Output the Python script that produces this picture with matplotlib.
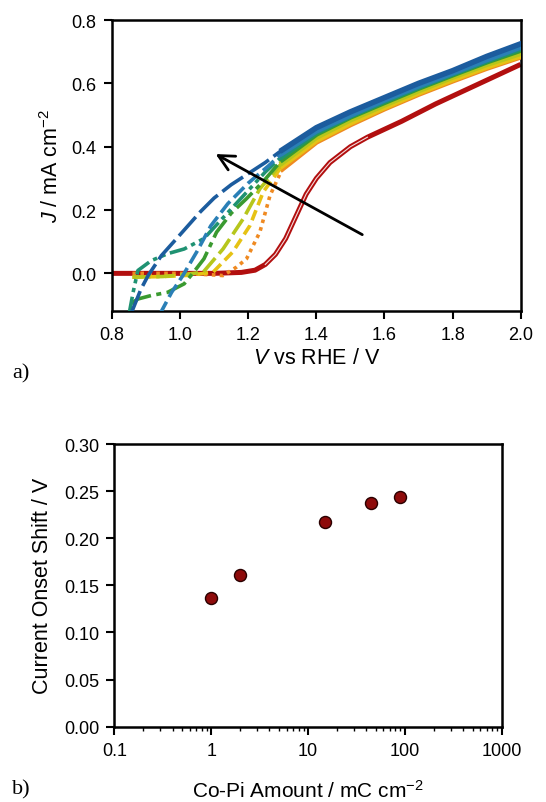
import numpy as np
import matplotlib
matplotlib.use("Agg")
import matplotlib.pyplot as plt
from matplotlib.ticker import FixedLocator, FixedFormatter, LogLocator, NullFormatter

plt.rcParams['font.family'] = ['Liberation Sans', 'DejaVu Sans']
plt.rcParams['mathtext.fontset'] = 'custom'
plt.rcParams['mathtext.rm'] = 'Liberation Sans'
plt.rcParams['mathtext.it'] = 'Liberation Sans:italic'

# ---------------- data: panel a (LSV curves) ----------------
V_HIGH = [1.4, 1.5, 1.6, 1.7, 1.8, 1.9, 2.0]

red_v = [0.80, 1.10, 1.18, 1.22, 1.25, 1.28, 1.31, 1.34, 1.37, 1.40, 1.44, 1.50, 1.55, 1.65, 1.75, 1.85, 1.95, 2.00]
red_j = [0.0, 0.0, 0.003, 0.01, 0.028, 0.06, 0.11, 0.18, 0.25, 0.30, 0.35, 0.40, 0.43, 0.48, 0.535, 0.585, 0.635, 0.66]

blue_a_v = [0.855, 0.885, 0.906, 0.945, 0.994, 1.06, 1.10, 1.15, 1.20, 1.25, 1.30]
blue_a_j = [-0.13, -0.05, -0.007, 0.056, 0.115, 0.195, 0.238, 0.28, 0.315, 0.35, 0.39]
blue_a_hi = [0.46, 0.51, 0.555, 0.60, 0.64, 0.685, 0.725]

blue_b_v = [0.94, 0.975, 1.008, 1.05, 1.09, 1.14, 1.20, 1.26, 1.30]
blue_b_j = [-0.13, -0.06, -0.007, 0.07, 0.15, 0.22, 0.285, 0.34, 0.38]
blue_b_hi = [0.45, 0.50, 0.548, 0.592, 0.633, 0.675, 0.715]

teal_v = [0.85, 0.862, 0.876, 0.915, 0.963, 1.012, 1.07, 1.13, 1.19, 1.25, 1.30]
teal_j = [-0.13, -0.06, 0.009, 0.04, 0.062, 0.077, 0.11, 0.18, 0.25, 0.32, 0.37]
teal_hi = [0.445, 0.497, 0.544, 0.588, 0.63, 0.671, 0.71]

green_v = [0.856, 0.876, 0.915, 0.963, 1.012, 1.04, 1.07, 1.107, 1.15, 1.195, 1.244, 1.30]
green_j = [-0.095, -0.081, -0.07, -0.06, -0.033, 0.004, 0.046, 0.13, 0.19, 0.236, 0.29, 0.36]
green_hi = [0.44, 0.494, 0.54, 0.585, 0.627, 0.668, 0.705]

yg_v = [0.86, 0.95, 1.0, 1.04, 1.068, 1.126, 1.185, 1.234, 1.30]
yg_j = [-0.012, -0.01, -0.005, 0.0, 0.004, 0.077, 0.172, 0.267, 0.35]
yg_hi = [0.43, 0.485, 0.532, 0.577, 0.62, 0.66, 0.695]

yel_v = [0.86, 0.95, 1.03, 1.07, 1.097, 1.155, 1.205, 1.244, 1.30]
yel_j = [-0.012, -0.01, -0.006, 0.0, 0.004, 0.068, 0.151, 0.257, 0.34]
yel_hi = [0.42, 0.475, 0.524, 0.570, 0.612, 0.652, 0.687]

org_v = [0.86, 1.0, 1.1, 1.126, 1.166, 1.195, 1.234, 1.264, 1.30]
org_j = [0.0, 0.0, -0.005, -0.007, 0.02, 0.046, 0.13, 0.246, 0.33]
org_hi = [0.415, 0.47, 0.52, 0.566, 0.608, 0.648, 0.684]

xticks_a = [0.8, 1.0, 1.2, 1.4, 1.6, 1.8, 2.0]
yticks_a = [0.0, 0.2, 0.4, 0.6, 0.8]

# ---------------- data: panel b ----------------
copi_amount = [1, 2, 15, 45, 90]
onset_shift = [0.137, 0.161, 0.217, 0.237, 0.244]
xticks_b = [0.1, 1, 10, 100, 1000]
xticklabels_b = ["0.1", "1", "10", "100", "1000"]
yticks_b = [0.00, 0.05, 0.10, 0.15, 0.20, 0.25, 0.30]

# ---------------- figure ----------------
fig = plt.figure(figsize=(5.46, 8.03), dpi=100)
ax1 = fig.add_axes([0.2051, 0.6118, 0.7486, 0.3620])
ax2 = fig.add_axes([0.2093, 0.0938, 0.7096, 0.3520])

curves = [
    (org_v, org_j, org_hi, '#ef8a22', (1, 1.2)),
    (yel_v, yel_j, yel_hi, '#e6c214', (3, 1.5)),
    (yg_v, yg_j, yg_hi, '#b6c61c', (5, 1.6)),
    (green_v, green_j, green_hi, '#3a9a30', (6, 1.5, 1.4, 1.5)),
    (teal_v, teal_j, teal_hi, '#1f9272', (5, 1.3, 1.2, 1.3, 1.2, 1.3)),
    (blue_b_v, blue_b_j, blue_b_hi, '#2a7fb6', (4, 1.5)),
    (blue_a_v, blue_a_j, blue_a_hi, '#1c5c9e', (7, 1.6)),
]

# red bare electrode (double line look)
red_v_arr = np.array(red_v)
red_j_arr = np.array(red_j)
ax1.plot(red_v_arr, red_j_arr, color='#b20f0f', lw=3.6, solid_capstyle='butt', zorder=2)
mask = (red_v_arr >= 1.25) & (red_v_arr <= 1.55)
ax1.plot(red_v_arr[mask], red_j_arr[mask], color='white', lw=0.8, alpha=0.85, zorder=2.1)

for v, j, hi, col, dash in curves:
    vv = list(v) + V_HIGH
    jj = list(j) + hi
    ax1.plot(vv, jj, color=col, lw=2.6, dashes=dash, zorder=3)
    ax1.plot([v[-1]] + V_HIGH, [j[-1]] + hi, color=col, lw=4.0, zorder=3)

ax1.annotate('', xy=(1.097, 0.381), xytext=(1.542, 0.118),
             arrowprops=dict(arrowstyle='->', color='black', lw=2.0, mutation_scale=28),
             zorder=5)

ax1.set_xlim(0.8, 2.0)
ax1.set_ylim(-0.118, 0.8)
ax1.xaxis.set_major_locator(FixedLocator(xticks_a))
ax1.yaxis.set_major_locator(FixedLocator(yticks_a))
ax1.set_xticklabels([f"{t:.1f}" for t in xticks_a])
ax1.set_yticklabels([f"{t:.1f}" for t in yticks_a])
ax1.tick_params(direction='out', length=6, width=1.5, labelsize=13, pad=5)
for s in ax1.spines.values():
    s.set_linewidth(1.8)
ax1.set_xlabel(r'$\mathit{V}$ vs RHE / V', fontsize=15.5, labelpad=3)
ax1.set_ylabel(r'$\mathit{J}$ / mA cm$^{-2}$', fontsize=15.5, labelpad=6)

# panel b
ax2.scatter(copi_amount, onset_shift, s=75, c='#8e0b0b', edgecolors='#2a0000', linewidths=1.0, zorder=3)
ax2.set_xscale('log')
ax2.set_xlim(0.1, 1000)
ax2.set_ylim(0.0, 0.30)
ax2.xaxis.set_major_locator(FixedLocator(xticks_b))
ax2.xaxis.set_major_formatter(FixedFormatter(xticklabels_b))
ax2.xaxis.set_minor_locator(LogLocator(base=10, subs=np.arange(2, 10)))
ax2.xaxis.set_minor_formatter(NullFormatter())
ax2.yaxis.set_major_locator(FixedLocator(yticks_b))
ax2.set_yticklabels([f"{t:.2f}" for t in yticks_b])
ax2.tick_params(which='major', direction='out', length=6, width=1.5, labelsize=13, pad=5)
ax2.tick_params(which='minor', direction='out', length=3, width=1.0)
for s in ax2.spines.values():
    s.set_linewidth(1.8)
ax2.set_xlabel(r'Co-Pi Amount / mC cm$^{-2}$', fontsize=15, labelpad=14)
ax2.set_ylabel('Current Onset Shift / V', fontsize=15.5, labelpad=8)

fig.text(0.022, 0.535, 'a)', fontsize=16, family=['Liberation Serif', 'DejaVu Serif'], va='center')
fig.text(0.022, 0.016, 'b)', fontsize=16, family=['Liberation Serif', 'DejaVu Serif'], va='center')

fig.savefig('out.png', dpi=100)
